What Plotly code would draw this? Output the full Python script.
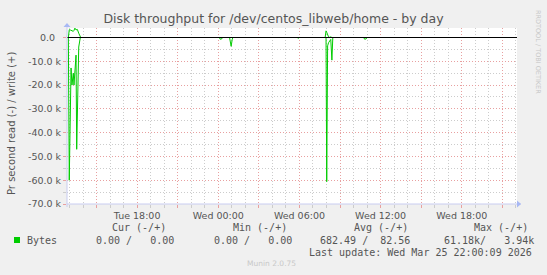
import plotly.graph_objects as go

# ---------------- data ----------------
read_times = ["2026-03-24 12:55", "2026-03-24 12:59", "2026-03-24 13:07", "2026-03-24 13:11",
              "2026-03-24 13:17", "2026-03-24 13:20", "2026-03-24 13:29", "2026-03-24 13:32",
              "2026-03-24 13:41", "2026-03-24 13:48",
              "2026-03-25 00:05", "2026-03-25 00:08", "2026-03-25 00:15", "2026-03-25 00:18",
              "2026-03-25 00:50", "2026-03-25 00:57", "2026-03-25 01:02", "2026-03-25 01:05",
              "2026-03-25 05:50", "2026-03-25 05:55", "2026-03-25 06:00",
              "2026-03-25 07:58", "2026-03-25 08:01", "2026-03-25 08:05", "2026-03-25 08:09",
              "2026-03-25 08:15", "2026-03-25 08:19", "2026-03-25 08:24", "2026-03-25 08:28",
              "2026-03-25 10:45", "2026-03-25 10:49", "2026-03-25 10:55", "2026-03-25 11:01",
              "2026-03-25 22:00"]
read_values = [0, -60000, -12800, -20000,
               -15000, -20000, -7400, -47000,
               -4000, 0,
               0, -700, -600, 0,
               0, -3700, -700, 0,
               0, -300, 0,
               0, -60600, -3500, -2200,
               -1000, -800, -9500, 0,
               0, -700, -600, 0,
               0]

write_times = ["2026-03-24 12:55", "2026-03-24 12:59", "2026-03-24 13:05", "2026-03-24 13:11",
               "2026-03-24 13:17", "2026-03-24 13:20", "2026-03-24 13:24", "2026-03-24 13:29",
               "2026-03-24 13:35", "2026-03-24 13:41", "2026-03-24 13:45", "2026-03-24 13:50",
               "2026-03-25 07:54", "2026-03-25 07:58", "2026-03-25 08:01", "2026-03-25 08:05",
               "2026-03-25 08:09", "2026-03-25 08:15", "2026-03-25 08:19", "2026-03-25 08:24",
               "2026-03-25 22:00"]
write_values = [0, 3300, 3100, 3000,
                2600, 3000, 3940, 3200,
                3400, 1800, 600, 0,
                0, 2800, 2200, 1200,
                300, 0, 300, 0,
                0]

x_range = ["2026-03-24 12:49", "2026-03-25 22:05"]
x_tick_times = ["2026-03-24 15:00", "2026-03-24 18:00", "2026-03-24 21:00", "2026-03-25 00:00",
                "2026-03-25 03:00", "2026-03-25 06:00", "2026-03-25 09:00", "2026-03-25 12:00",
                "2026-03-25 15:00", "2026-03-25 18:00", "2026-03-25 21:00"]
x_tick_labels = ["", "Tue 18:00", "", "Wed 00:00", "", "Wed 06:00", "", "Wed 12:00", "",
                 "Wed 18:00", ""]

y_tick_values = [0, -10000, -20000, -30000, -40000, -50000, -60000, -70000]
y_tick_labels = ["0.0\u00a0\u00a0", "-10.0 k", "-20.0 k", "-30.0 k", "-40.0 k", "-50.0 k",
                 "-60.0 k", "-70.0 k"]
y_range = [-70000, 4000]

title = "Disk throughput for /dev/centos_libweb/home - by day"
y_title = "Pr second read (-) / write (+)"
legend_header = ["Cur (-/+)", "Min (-/+)", "Avg (-/+)", "Max (-/+)"]
legend_name = "Bytes"
legend_values = ["0.00 /   0.00", "0.00 /   0.00", "682.49 /  82.56", "61.18k/   3.94k"]
last_update = "Last update: Wed Mar 25 22:00:09 2026"
munin_version = "Munin 2.0.75"
rrd_credit = "RRDTOOL / TOBI OETIKER"

# ---------------- layout geometry ----------------
W, H = 547, 275
L, R, T, B = 67, 30, 28, 71
PW, PH = W - L - R, H - T - B
GREEN = "#00cc00"
TXT = "#555555"
MAJ = "#e8a0a0"
MIN = "#cccccc"
AXIS = "#c8ccf0"
ARROW = "#a8b8f4"


def px(x):
    return (x - L) / PW


def py(y):
    return (H - B - y) / PH


fig = go.Figure()
fig.add_trace(go.Scatter(x=read_times, y=read_values, mode="lines",
                         line=dict(color=GREEN, width=1), showlegend=False, hoverinfo="skip"))
fig.add_trace(go.Scatter(x=write_times, y=write_values, mode="lines",
                         line=dict(color=GREEN, width=1), showlegend=False, hoverinfo="skip"))

axis_font = dict(family="DejaVu Sans", size=9.5, color=TXT)

fig.update_xaxes(type="date", range=x_range, tickvals=x_tick_times, ticktext=x_tick_labels,
                 showgrid=True, gridcolor=MAJ, griddash="1px,2px", gridwidth=1,
                 ticks="outside", ticklen=3, tickcolor=MAJ, tickfont=axis_font,
                 minor=dict(dtick=3600000, showgrid=True, gridcolor=MIN, griddash="1px,2px",
                            ticks="outside", ticklen=3, tickcolor=MIN),
                 showline=False, zeroline=False, fixedrange=True)
fig.update_yaxes(range=y_range, tickvals=y_tick_values, ticktext=y_tick_labels,
                 showgrid=True, gridcolor=MAJ, griddash="1px,2px", gridwidth=1,
                 ticks="outside", ticklen=3, tickcolor=MAJ, tickfont=axis_font,
                 minor=dict(dtick=5000, tick0=0, showgrid=True, gridcolor=MIN, griddash="1px,2px",
                            ticks="outside", ticklen=3, tickcolor=MIN),
                 showline=False, zeroline=False, fixedrange=True)

shapes = []
# zero line on top
shapes.append(dict(type="line", xref="paper", yref="y", x0=0, x1=1, y0=0, y1=0,
                   line=dict(color="#000000", width=1), layer="above"))
# axis lines
shapes.append(dict(type="line", xref="paper", yref="paper", x0=0, x1=px(521), y0=0, y1=0,
                   line=dict(color=AXIS, width=1), layer="above"))
shapes.append(dict(type="line", xref="paper", yref="paper", x0=0, x1=0, y0=py(207), y1=py(24),
                   line=dict(color=AXIS, width=1), layer="above"))
# arrows
shapes.append(dict(type="path", xref="paper", yref="paper", xsizemode="pixel", ysizemode="pixel",
                   xanchor=px(521), yanchor=0, path="M 0,0 L -4,3.5 L -4,-3.5 Z",
                   fillcolor=ARROW, line=dict(width=0), layer="above"))
shapes.append(dict(type="path", xref="paper", yref="paper", xsizemode="pixel", ysizemode="pixel",
                   xanchor=0, yanchor=py(23), path="M 0,0 L -3.5,-4 L 3.5,-4 Z",
                   fillcolor=ARROW, line=dict(width=0), layer="above"))
# legend colour box
shapes.append(dict(type="rect", xref="paper", yref="paper", x0=px(14), x1=px(20),
                   y0=py(243), y1=py(237), fillcolor=GREEN, line=dict(width=0)))

mono = dict(family="DejaVu Sans Mono", size=10, color=TXT)
ann = []


def add(text, x, y, font, xanchor="left", angle=0):
    ann.append(dict(text=text, x=px(x), y=py(y), xref="paper", yref="paper", showarrow=False,
                    xanchor=xanchor, yanchor="middle", font=font, textangle=angle,
                    borderpad=0))


header_x = [111, 232, 353, 473]
value_x = [95, 213, 319, 443]
for t, x in zip(legend_header, header_x):
    add(t.replace(" ", "\u00a0"), x, 227, mono)
add(legend_name, 26, 240, mono)
for t, x in zip(legend_values, value_x):
    add(t.replace(" ", "\u00a0"), x, 240, mono)
add(last_update.replace(" ", "\u00a0"), 533, 252, mono, xanchor="right")
add(munin_version, 297, 263, dict(family="DejaVu Sans", size=7.5, color="#c8c8c8"), xanchor="right")
add(y_title, 11, 124, dict(family="DejaVu Sans", size=10, color=TXT), xanchor="center", angle=-90)
ann.append(dict(text=rrd_credit, x=px(538), y=py(52), xref="paper", yref="paper",
                showarrow=False, xanchor="center", yanchor="middle", textangle=90,
                font=dict(family="DejaVu Sans", size=6.5, color="#c8c8c8")))

fig.update_layout(
    width=W, height=H, margin=dict(l=L, r=R, t=T, b=B, pad=0),
    paper_bgcolor="#f0f0f0", plot_bgcolor="#ffffff",
    title=dict(text=title, x=0.5, xref="container", xanchor="center",
               y=1 - 18.5 / H, yref="container", yanchor="middle",
               font=dict(family="DejaVu Sans", size=12.5, color=TXT)),
    shapes=shapes, annotations=ann, showlegend=False,
)

fig.write_html("out.html", config={"displayModeBar": False})
